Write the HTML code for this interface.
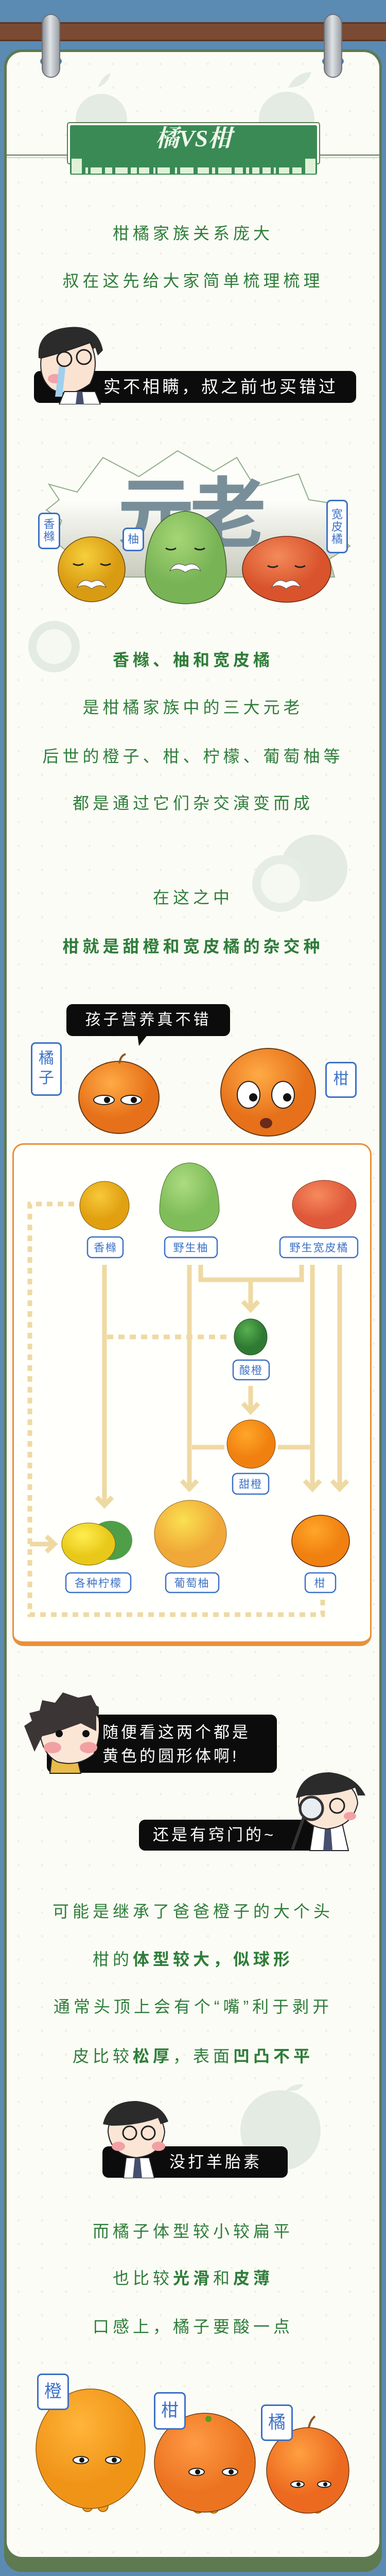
<!DOCTYPE html>
<html><head><meta charset="utf-8">
<style>
*{margin:0;padding:0;box-sizing:border-box}
html,body{width:750px;height:5040px;overflow:hidden}
body{background:#5b8ab3;position:relative;font-family:"Liberation Sans","Noto Sans CJK SC",sans-serif}
.abs{position:absolute}
.t{position:absolute;left:0;width:750px;text-align:center;color:#2f7d3a;font-size:32px;letter-spacing:7px;line-height:40px}
.b{font-weight:bold}
.lab{position:absolute;background:#fff;border:3px solid #3d72c6;border-radius:9px;color:#3d72c6;text-align:center;font-size:22px;line-height:24px}
.bub{position:absolute;background:#0c0c0c;border-radius:12px;color:#fff;font-size:32px;letter-spacing:5px}
</style></head><body>
<div class="abs" style="left:0;top:43px;width:750px;height:37px;background:#7a4a33;border-top:3px solid #5a3522;border-bottom:3px solid #5a3522"></div>
<div class="abs" style="left:8px;top:96px;width:734px;height:4896px;background:#5d7a50;border-radius:34px"></div>
<div class="abs" style="left:13px;top:101px;width:724px;height:4862px;background:#fcfcf6;border-radius:30px;background-image:radial-gradient(#eef0e2 2px,transparent 2.5px);background-size:46px 46px"></div>
<div class="abs" style="left:78px;top:108px;width:42px;height:22px;border-radius:50%;background:#4e7ca6"></div>
<div class="abs" style="left:626px;top:108px;width:42px;height:22px;border-radius:50%;background:#4e7ca6"></div>
<div class="abs" style="left:81px;top:27px;width:36px;height:124px;border-radius:18px;background:linear-gradient(90deg,#8d9399,#dfe3e6 45%,#9aa0a6);border:2px solid #6c7278"></div>
<div class="abs" style="left:629px;top:27px;width:36px;height:124px;border-radius:18px;background:linear-gradient(90deg,#8d9399,#dfe3e6 45%,#9aa0a6);border:2px solid #6c7278"></div>

<svg class="abs" style="left:0;top:0" width="750" height="360">
<circle cx="197" cy="232" r="50" fill="#e3ebe3"/><path d="M190 170 q10 -25 25 -28 q-5 20 -25 28z" fill="#e3ebe3"/>
<circle cx="557" cy="232" r="54" fill="#e3ebe3"/><path d="M560 170 q15 -30 45 -30 q-10 30 -45 30z" fill="#e3ebe3"/>
<line x1="13" y1="301" x2="737" y2="301" stroke="#5d7a50" stroke-width="2"/>
<line x1="13" y1="306" x2="737" y2="306" stroke="#cfd8c6" stroke-width="2"/>
<rect x="131" y="238" width="490" height="80" rx="4" fill="#fcfcf6" stroke="#5d7a50" stroke-width="2"/>
<rect x="136" y="243" width="480" height="96" rx="3" fill="#3a8a55"/>
<g fill="#dff2d8">
<rect x="139" y="308" width="20" height="29"/><rect x="593" y="308" width="20" height="29"/>
<rect x="166" y="325" width="5" height="12"/><rect x="176" y="325" width="22" height="12"/><rect x="204" y="325" width="14" height="12"/><rect x="224" y="325" width="24" height="12"/><rect x="254" y="325" width="12" height="12"/><rect x="270" y="325" width="20" height="12"/><rect x="298" y="325" width="4" height="12"/><rect x="306" y="325" width="24" height="12"/><rect x="340" y="325" width="4" height="12"/><rect x="350" y="325" width="26" height="12"/><rect x="384" y="325" width="22" height="12"/><rect x="412" y="325" width="6" height="12"/><rect x="424" y="325" width="26" height="12"/><rect x="456" y="325" width="16" height="12"/><rect x="478" y="325" width="6" height="12"/><rect x="490" y="325" width="14" height="12"/><rect x="510" y="325" width="16" height="12"/><rect x="532" y="325" width="4" height="12"/><rect x="542" y="325" width="20" height="12"/><rect x="568" y="325" width="18" height="12"/>
</g>
<text x="376" y="284" font-size="46" font-weight="bold" font-style="italic" fill="#eef7ea" text-anchor="middle" font-family="Liberation Serif, Noto Serif CJK SC, serif">橘VS柑</text>
</svg>

<div class="t" style="top:433px">柑橘家族关系庞大</div>
<div class="t" style="top:525px">叔在这先给大家简单梳理梳理</div>

<div class="bub" style="left:66px;top:720px;width:626px;height:62px;line-height:62px;padding-left:135px;font-size:33px">实不相瞒，叔之前也买错过</div>
<svg class="abs" style="left:55px;top:625px" width="150" height="160">
<path d="M20 70 q-5 -55 60 -60 q55 -5 65 45 l-10 10 l-5 -15 q-30 20 -85 25z" fill="#2b2b2b"/>
<path d="M25 70 q40 -10 95 -30 q20 40 0 80 q-40 30 -75 10 q-25 -20 -20 -60z" fill="#fbe3d2" stroke="#222" stroke-width="2"/>
<circle cx="70" cy="72" r="14" fill="none" stroke="#222" stroke-width="3"/><circle cx="108" cy="68" r="14" fill="none" stroke="#222" stroke-width="3"/>
<ellipse cx="52" cy="110" rx="14" ry="9" fill="#f2a2a8"/>
<path d="M60 85 l-8 60 l14 0 l6 -55z" fill="#9fd0ee"/>
<path d="M70 135 l60 0 l10 25 l-80 0z" fill="#fff" stroke="#222" stroke-width="2"/>
<path d="M95 135 l10 0 l3 25 l-16 0z" fill="#474f6e"/>
</svg>

<svg class="abs" style="left:0;top:860px" width="750" height="330">
<defs><linearGradient id="cg" x1="0" y1="0" x2="0" y2="1"><stop offset="0.4" stop-color="#fdfdf9"/><stop offset="1" stop-color="#c7cabc"/></linearGradient></defs>
<path d="M95 80 L150 95 L200 28 L270 65 L345 15 L415 55 L460 28 L495 85 L580 60 L600 110 L665 120 L640 170 L680 200 L640 225 L650 260 L430 260 L120 260 L130 210 L105 190 L120 150 L90 130 L115 110z" fill="url(#cg)" stroke="#8fae86" stroke-width="2"/>
<text x="368" y="190" font-size="150" font-weight="bold" fill="#788f9a" text-anchor="middle" letter-spacing="-10">元老</text>
<defs>
<radialGradient id="yg" cx="0.4" cy="0.3"><stop offset="0" stop-color="#f6cf3c"/><stop offset="1" stop-color="#d99b12"/></radialGradient>
<radialGradient id="gg" cx="0.4" cy="0.3"><stop offset="0" stop-color="#a6d675"/><stop offset="1" stop-color="#78b356"/></radialGradient>
<radialGradient id="og" cx="0.4" cy="0.3"><stop offset="0" stop-color="#f38a5a"/><stop offset="1" stop-color="#d9532c"/></radialGradient>
</defs>
<ellipse cx="178" cy="245" rx="65" ry="63" fill="url(#yg)" stroke="#6a4a10" stroke-width="1.5"/>
<path d="M282 250 Q285 140 360 132 Q438 140 440 250 Q435 310 361 312 Q285 310 282 250z" fill="url(#gg)" stroke="#3f5e2a" stroke-width="1.5"/>
<ellipse cx="557" cy="245" rx="86" ry="64" fill="url(#og)" stroke="#6a2a10" stroke-width="1.5"/>
<g stroke="#222" stroke-width="3" fill="none">
<path d="M142 234 q10 6 20 0 M195 234 q10 6 20 0"/><path d="M322 204 q10 6 20 0 M378 204 q10 6 20 0"/><path d="M520 238 q10 6 20 0 M573 238 q10 6 20 0"/></g>
<g fill="#fff" stroke="#555" stroke-width="1"><path d="M150 280 q10 -20 28 -10 q18 -10 28 10 q-15 -8 -28 3 q-13 -11 -28 -3z"/><path d="M330 248 q10 -20 30 -10 q20 -10 30 10 q-15 -8 -30 3 q-15 -11 -30 -3z"/><path d="M528 280 q10 -20 28 -10 q18 -10 28 10 q-15 -8 -28 3 q-13 -11 -28 -3z"/></g>
</svg>
<div class="lab" style="left:74px;top:995px;width:43px;height:71px;padding-top:8px">香<br>橼</div>
<div class="lab" style="left:238px;top:1024px;width:42px;height:46px;padding-top:8px">柚</div>
<div class="lab" style="left:634px;top:970px;width:42px;height:104px;padding-top:14px">宽<br>皮<br>橘</div>

<svg class="abs" style="left:50px;top:1190px" width="120" height="130"><circle cx="55" cy="65" r="50" fill="#e3ebe3"/><circle cx="55" cy="65" r="34" fill="#f6f8f2"/></svg>
<svg class="abs" style="left:485px;top:1600px" width="200" height="185"><circle cx="125" cy="85" r="65" fill="#e3ebe3"/><circle cx="60" cy="115" r="55" fill="#e6ede4"/><circle cx="60" cy="115" r="38" fill="#f6f8f2"/></svg>

<div class="t b" style="top:1261px">香橼、柚和宽皮橘</div>
<div class="t" style="top:1353px">是柑橘家族中的三大元老</div>
<div class="t" style="top:1448px">后世的橙子、柑、柠檬、葡萄柚等</div>
<div class="t" style="top:1539px">都是通过它们杂交演变而成</div>
<div class="t" style="top:1722px">在这之中</div>
<div class="t b" style="top:1817px">柑就是甜橙和宽皮橘的杂交种</div>

<div class="bub" style="left:129px;top:1949px;width:318px;height:62px;line-height:62px;text-align:center;font-size:30px">孩子营养真不错</div>
<svg class="abs" style="left:262px;top:2008px" width="30" height="24"><path d="M5 0 L25 0 L8 22z" fill="#0c0c0c"/></svg>
<div class="lab" style="left:60px;top:2023px;width:60px;height:104px;font-size:30px;line-height:38px;padding-top:10px">橘<br>子</div>
<div class="lab" style="left:632px;top:2061px;width:61px;height:70px;font-size:30px;line-height:62px">柑</div>
<svg class="abs" style="left:140px;top:2020px" width="500" height="190">
<defs><radialGradient id="o2" cx="0.4" cy="0.3"><stop offset="0" stop-color="#ffab45"/><stop offset="1" stop-color="#e6711a"/></radialGradient></defs>
<ellipse cx="91" cy="110" rx="78" ry="70" fill="url(#o2)" stroke="#6a3a10" stroke-width="2"/>
<path d="M92 44 q2 -15 12 -18" stroke="#8a5a2a" stroke-width="4" fill="none"/>
<ellipse cx="381" cy="100" rx="92" ry="85" fill="url(#o2)" stroke="#6a3a10" stroke-width="2"/>
<ellipse cx="62" cy="115" rx="20" ry="9" fill="#fff" stroke="#222" stroke-width="2"/><ellipse cx="115" cy="115" rx="20" ry="9" fill="#fff" stroke="#222" stroke-width="2"/>
<circle cx="68" cy="115" r="6" fill="#111"/><circle cx="120" cy="115" r="6" fill="#111"/>
<ellipse cx="343" cy="105" rx="22" ry="26" fill="#fff" stroke="#222" stroke-width="2"/><ellipse cx="410" cy="105" rx="22" ry="26" fill="#fff" stroke="#222" stroke-width="2"/>
<circle cx="352" cy="110" r="8" fill="#111"/><circle cx="418" cy="110" r="8" fill="#111"/>
<ellipse cx="377" cy="160" rx="12" ry="10" fill="#6b2a1a"/>
</svg>

<div class="abs" style="left:24px;top:2219px;width:698px;height:976px;border:3px solid #e8913a;border-bottom:9px solid #e8913a;border-radius:22px;background:#fffffb"></div>
<svg class="abs" style="left:0;top:2200px" width="750" height="1000">
<defs>
<radialGradient id="d1" cx="0.4" cy="0.3"><stop offset="0" stop-color="#f8c93a"/><stop offset="1" stop-color="#e0a010"/></radialGradient>
<radialGradient id="d2" cx="0.4" cy="0.3"><stop offset="0" stop-color="#addb80"/><stop offset="1" stop-color="#7fbd5a"/></radialGradient>
<radialGradient id="d3" cx="0.4" cy="0.3"><stop offset="0" stop-color="#f68a5e"/><stop offset="1" stop-color="#e0583a"/></radialGradient>
<radialGradient id="d4" cx="0.4" cy="0.3"><stop offset="0" stop-color="#58b050"/><stop offset="1" stop-color="#2f7a32"/></radialGradient>
<radialGradient id="d5" cx="0.4" cy="0.3"><stop offset="0" stop-color="#ffa628"/><stop offset="1" stop-color="#f08010"/></radialGradient>
<radialGradient id="d6" cx="0.4" cy="0.3"><stop offset="0" stop-color="#fbe050"/><stop offset="1" stop-color="#f0a838"/></radialGradient>
<radialGradient id="d7" cx="0.4" cy="0.3"><stop offset="0" stop-color="#ffee50"/><stop offset="1" stop-color="#e8c818"/></radialGradient>
</defs>
<g stroke="#efd9a3" stroke-width="9" fill="none">
<line x1="203" y1="255" x2="203" y2="722"/><polyline points="188,706 203,722 218,706"/>
<line x1="368" y1="255" x2="368" y2="690"/><polyline points="353,674 368,690 383,674"/>
<polyline points="390,255 390,284 586,284 586,255"/>
<line x1="487" y1="284" x2="487" y2="342"/><polyline points="472,326 487,342 502,326"/>
<line x1="607" y1="255" x2="607" y2="690"/><polyline points="592,674 607,690 622,674"/>
<line x1="660" y1="255" x2="660" y2="690"/><polyline points="645,674 660,690 675,674"/>
<line x1="487" y1="490" x2="487" y2="540"/><polyline points="472,524 487,540 502,524"/>
<line x1="373" y1="609" x2="436" y2="609"/><line x1="540" y1="609" x2="603" y2="609"/>
<line x1="208" y1="395" x2="443" y2="395" stroke-dasharray="12 10"/>
<polyline points="144,137 58,137 58,934 627,934 627,905" stroke-dasharray="11 10"/>
<line x1="58" y1="797" x2="104" y2="797"/><polyline points="90,782 106,797 90,812"/>
</g>
<ellipse cx="203" cy="140" rx="48" ry="47" fill="url(#d1)" stroke="#7a5a10" stroke-width="1"/>
<path d="M310 150 Q312 60 368 57 Q425 60 426 150 Q420 190 368 190 Q312 190 310 150z" fill="url(#d2)" stroke="#4a6a2a" stroke-width="1"/>
<ellipse cx="630" cy="138" rx="62" ry="47" fill="url(#d3)" stroke="#7a3a20" stroke-width="1"/>
<ellipse cx="487" cy="395" rx="32" ry="35" fill="url(#d4)" stroke="#1e4a1e" stroke-width="1"/>
<ellipse cx="488" cy="603" rx="47" ry="47" fill="url(#d5)" stroke="#7a4a10" stroke-width="1"/>
<ellipse cx="215" cy="790" rx="42" ry="38" fill="#4f9e48"/>
<ellipse cx="172" cy="797" rx="52" ry="41" fill="url(#d7)" stroke="#7a6a10" stroke-width="1"/>
<ellipse cx="370" cy="777" rx="70" ry="65" fill="url(#d6)" stroke="#8a6a20" stroke-width="1"/>
<ellipse cx="623" cy="791" rx="56" ry="50" fill="url(#d5)" stroke="#5a2a10" stroke-width="1.5"/>
<g font-size="21" fill="#3d72c6" text-anchor="middle" letter-spacing="2">
<rect x="170" y="201" width="69" height="40" rx="9" fill="#fff" stroke="#3d72c6" stroke-width="2.5"/><text x="205" y="229">香橼</text>
<rect x="320" y="201" width="102" height="40" rx="9" fill="#fff" stroke="#3d72c6" stroke-width="2.5"/><text x="371" y="229">野生柚</text>
<rect x="544" y="201" width="151" height="40" rx="9" fill="#fff" stroke="#3d72c6" stroke-width="2.5"/><text x="620" y="229">野生宽皮橘</text>
<rect x="453" y="440" width="70" height="38" rx="9" fill="#fff" stroke="#3d72c6" stroke-width="2.5"/><text x="488" y="467">酸橙</text>
<rect x="452" y="660" width="70" height="40" rx="9" fill="#fff" stroke="#3d72c6" stroke-width="2.5"/><text x="487" y="688">甜橙</text>
<rect x="128" y="853" width="126" height="38" rx="9" fill="#fff" stroke="#3d72c6" stroke-width="2.5"/><text x="191" y="880">各种柠檬</text>
<rect x="322" y="853" width="103" height="38" rx="9" fill="#fff" stroke="#3d72c6" stroke-width="2.5"/><text x="373" y="880">葡萄柚</text>
<rect x="593" y="853" width="59" height="38" rx="9" fill="#fff" stroke="#3d72c6" stroke-width="2.5"/><text x="622" y="880">柑</text>
</g>
</svg>

<div class="bub" style="left:91px;top:3328px;width:447px;height:113px;padding:12px 0 0 108px;line-height:46px;font-size:31px">随便看这两个都是<br>黄色的圆形体啊!</div>
<svg class="abs" style="left:42px;top:3280px" width="150" height="165">
<path d="M60 120 l45 0 l10 42 l-60 0z" fill="#e8bb4a" stroke="#222" stroke-width="2"/>
<path d="M35 80 q-5 -45 40 -55 q50 -10 75 30 q5 35 -10 70 q-30 25 -70 15 q-30 -15 -35 -60z" fill="#fbe6d6" stroke="#222" stroke-width="2"/>
<path d="M5 70 l15 -10 l-5 -15 l20 -5 l5 -20 l25 5 l15 -20 l30 10 l25 -5 l10 20 l15 10 l-15 10 l0 30 l-30 -15 l-55 20 l-20 5 l-15 30 z" fill="#3c3536"/>
<circle cx="73" cy="85" r="7" fill="#111"/><circle cx="125" cy="85" r="7" fill="#111"/>
<ellipse cx="60" cy="112" rx="17" ry="11" fill="#f2a0a4"/><ellipse cx="130" cy="112" rx="17" ry="11" fill="#f2a0a4"/>
</svg>

<div class="bub" style="left:270px;top:3532px;width:397px;height:60px;line-height:60px;padding-left:27px;font-size:31px">还是有窍门的~</div>
<svg class="abs" style="left:560px;top:3440px" width="150" height="155">
<path d="M50 100 l55 0 l12 52 l-75 0z" fill="#fff" stroke="#222" stroke-width="2"/><path d="M72 100 l10 0 l4 52 l-18 0z" fill="#474f6e"/>
<path d="M20 60 q0 -40 55 -45 q55 0 60 45 q-10 45 -60 50 q-50 -5 -55 -50z" fill="#fbe6d6" stroke="#222" stroke-width="2"/>
<path d="M15 50 q10 -50 65 -50 q50 5 70 45 l-15 0 l-5 -15 q-40 15 -95 15z" fill="#2b2b2b"/>
<circle cx="95" cy="65" r="14" fill="none" stroke="#222" stroke-width="3"/>
<circle cx="45" cy="70" r="22" fill="#e8eef2" stroke="#333" stroke-width="5"/><line x1="30" y1="88" x2="8" y2="150" stroke="#333" stroke-width="6"/>
<ellipse cx="120" cy="85" rx="12" ry="8" fill="#f2a0a4"/>
</svg>

<div class="t" style="top:3690px">可能是继承了爸爸橙子的大个头</div>
<div class="t" style="top:3783px">柑的<b>体型较大，似球形</b></div>
<div class="t" style="top:3875px">通常头顶上会有个“嘴”利于剥开</div>
<div class="t" style="top:3971px">皮比较<b>松厚</b>，表面<b>凹凸不平</b></div>

<svg class="abs" style="left:460px;top:4040px" width="175" height="170"><circle cx="85" cy="95" r="78" fill="#e3ebe3"/><path d="M95 18 q15 -15 35 -12 q-10 15 -35 12z" fill="#e3ebe3"/></svg>

<div class="bub" style="left:199px;top:4166px;width:360px;height:61px;line-height:61px;padding-left:130px;font-size:31px">没打羊胎素</div>
<svg class="abs" style="left:190px;top:4078px" width="140" height="150">
<path d="M55 110 l45 0 l10 40 l-60 0z" fill="#fff" stroke="#222" stroke-width="2"/><path d="M72 110 l10 0 l4 40 l-18 0z" fill="#474f6e"/>
<path d="M20 60 q0 -40 55 -45 q50 0 55 45 q-5 45 -55 50 q-50 -5 -55 -50z" fill="#fbe6d6" stroke="#222" stroke-width="2"/>
<path d="M10 45 q10 -45 65 -45 q50 5 62 40 l-15 5 l-5 -12 q-40 15 -90 15z" fill="#2b2b2b"/>
<circle cx="62" cy="62" r="13" fill="none" stroke="#222" stroke-width="3"/><circle cx="98" cy="62" r="13" fill="none" stroke="#222" stroke-width="3"/>
<ellipse cx="40" cy="88" rx="13" ry="9" fill="#f2a0a4"/><ellipse cx="118" cy="88" rx="13" ry="9" fill="#f2a0a4"/>
</svg>

<div class="t" style="top:4311px">而橘子体型较小较扁平</div>
<div class="t" style="top:4402px">也比较<b>光滑</b>和<b>皮薄</b></div>
<div class="t" style="top:4496px">口感上，橘子要酸一点</div>

<svg class="abs" style="left:60px;top:4620px" width="640" height="280">
<defs>
<radialGradient id="e1" cx="0.4" cy="0.3"><stop offset="0" stop-color="#ffb53a"/><stop offset="1" stop-color="#f09418"/></radialGradient>
<radialGradient id="e2" cx="0.4" cy="0.3"><stop offset="0" stop-color="#ff9a45"/><stop offset="1" stop-color="#ec7420"/></radialGradient>
<radialGradient id="e3" cx="0.4" cy="0.3"><stop offset="0" stop-color="#ffa040"/><stop offset="1" stop-color="#ec6a20"/></radialGradient>
</defs>
<g fill="#f29a1e" stroke="#8a5a10" stroke-width="1.5">
<rect x="100" y="200" width="20" height="55" rx="10"/><rect x="130" y="200" width="20" height="55" rx="10"/>
<rect x="315" y="210" width="20" height="48" rx="10"/><rect x="345" y="210" width="20" height="48" rx="10"/>
<rect x="522" y="215" width="18" height="43" rx="9"/><rect x="548" y="215" width="18" height="43" rx="9"/>
</g>
<ellipse cx="116" cy="133" rx="106" ry="116" fill="url(#e1)" stroke="#8a5a10" stroke-width="1.5"/>
<ellipse cx="338" cy="160" rx="98" ry="96" fill="url(#e2)" stroke="#6a3a10" stroke-width="1.5"/>
<ellipse cx="538" cy="175" rx="80" ry="83" fill="url(#e3)" stroke="#6a3a10" stroke-width="1.5"/>
<g fill="#fff" stroke="#222" stroke-width="2">
<ellipse cx="97" cy="155" rx="15" ry="7"/><ellipse cx="160" cy="155" rx="15" ry="7"/>
<ellipse cx="322" cy="178" rx="15" ry="7"/><ellipse cx="387" cy="178" rx="15" ry="7"/>
<ellipse cx="518" cy="202" rx="13" ry="6"/><ellipse cx="570" cy="202" rx="13" ry="6"/></g>
<g fill="#111"><circle cx="99" cy="155" r="5"/><circle cx="162" cy="155" r="5"/><circle cx="324" cy="178" r="5"/><circle cx="389" cy="178" r="5"/><circle cx="520" cy="202" r="4"/><circle cx="572" cy="202" r="4"/></g>
<path d="M540 92 q3 -15 12 -22" stroke="#8a5a2a" stroke-width="4" fill="none"/>
<circle cx="345" cy="75" r="6" fill="#5a9a20"/>
</svg>
<div class="lab" style="left:72px;top:4607px;width:62px;height:71px;font-size:34px;line-height:64px">橙</div>
<div class="lab" style="left:299px;top:4643px;width:62px;height:73px;font-size:34px;line-height:66px">柑</div>
<div class="lab" style="left:507px;top:4667px;width:62px;height:71px;font-size:34px;line-height:64px">橘</div>
</body></html>
